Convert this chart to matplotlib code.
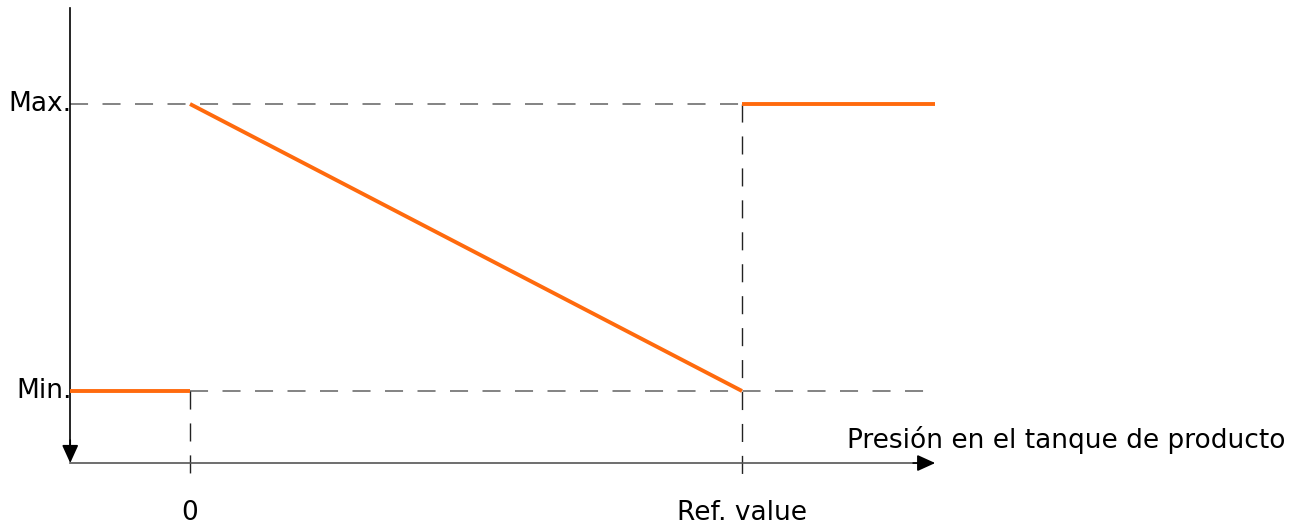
import matplotlib.pyplot as plt

# positions on the conceptual axes: 0 -> "0", 1 -> "Ref. value"; y: 0 -> Min., 1 -> Max.
x_ticks = [0, 1]
x_tick_labels = ['0', 'Ref. value']
y_ticks = [0, 1]
y_tick_labels = ['Min.', 'Max.']
x_start = -0.217
x_end = 1.35
seg_low_x = [x_start, 0]
seg_low_y = [0, 0]
seg_ramp_x = [0, 1]
seg_ramp_y = [1, 0]
seg_high_x = [1, x_end]
seg_high_y = [1, 1]
axis_label = 'Presión en el tanque de producto'

ORANGE = '#ff6a0d'
GRAY = '#7a7a7a'

fig = plt.figure(figsize=(13.06, 5.27), dpi=100)
ax = fig.add_axes([0, 0, 1, 1])
ax.set_xlim(-190 / 552, 1116 / 552)
ax.set_ylim((391 - 527) / 287, 391 / 287)
ax.axis('off')

y_axis = -0.251
y_top = 1.334
hdash = dict(color=GRAY, lw=1.3, dashes=(10, 8))
vdash = dict(color='#222222', lw=1.0, dashes=(13, 10))

# guide lines
ax.plot([x_start, 1], [1, 1], **hdash)
ax.plot([0, x_end], [0, 0], **hdash)
ax.plot([0, 0], [0, y_axis - 0.04], **vdash)
ax.plot([1, 1], [1, y_axis - 0.04], **vdash)

# axes with arrows
head = '-|>,head_length=1.1,head_width=0.5'
ax.plot([x_start, x_start], [y_top, y_axis + 0.03], color='black', lw=1.2)
ax.annotate('', xy=(x_start, y_axis), xytext=(x_start, y_axis + 0.08),
            arrowprops=dict(arrowstyle=head, color='black', lw=1.2,
                            shrinkA=0, shrinkB=0))
ax.plot([x_start, x_end - 0.02], [y_axis, y_axis], color='#555555', lw=1.2)
ax.annotate('', xy=(x_end, y_axis), xytext=(x_end - 0.04, y_axis),
            arrowprops=dict(arrowstyle=head, color='black', lw=1.2,
                            shrinkA=0, shrinkB=0))

# curve
for sx, sy in [(seg_low_x, seg_low_y), (seg_ramp_x, seg_ramp_y), (seg_high_x, seg_high_y)]:
    ax.plot(sx, sy, color=ORANGE, lw=2.8, solid_capstyle='butt')

fs = 19
for v, lab in zip(y_ticks, y_tick_labels):
    ax.text(x_start + 0.003, v, lab, ha='right', va='center', fontsize=fs)
for v, lab in zip(x_ticks, x_tick_labels):
    ax.text(v, -0.425, lab, ha='center', va='center', fontsize=fs)
ax.text(1.19, -0.17, axis_label, ha='left', va='center', fontsize=fs)

fig.savefig('out.png', dpi=100)
